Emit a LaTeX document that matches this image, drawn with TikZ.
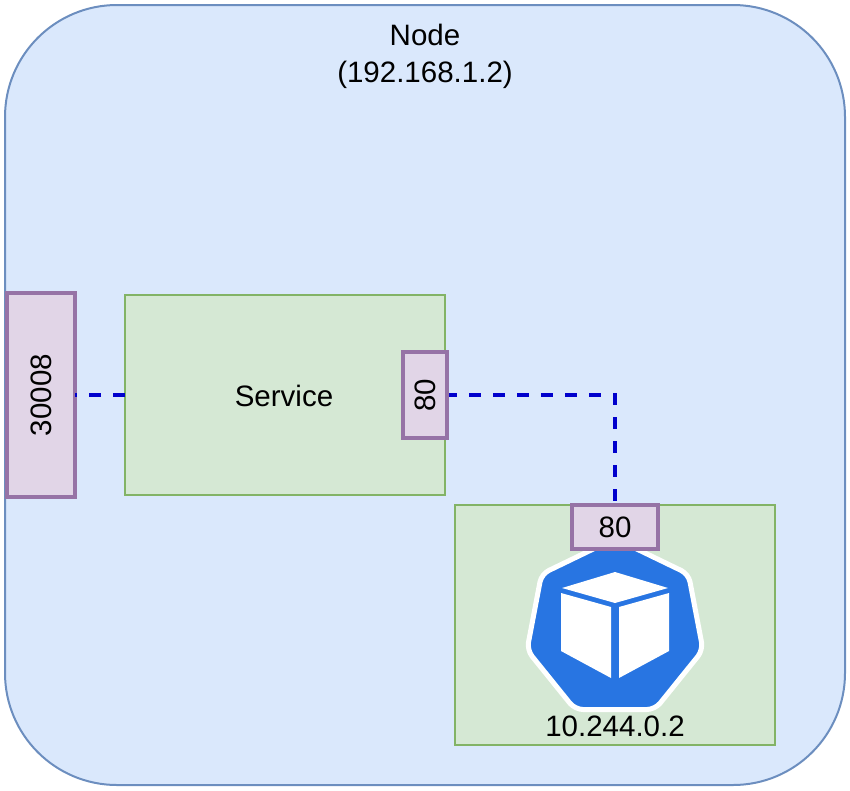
\documentclass[tikz,border=0pt]{standalone}
\usepackage{fontspec}
\setmainfont{Liberation Sans}
\definecolor{hostfill}{HTML}{DAE8FC}
\definecolor{hostline}{HTML}{6C8EBF}
\definecolor{boxfill}{HTML}{D5E8D4}
\definecolor{boxline}{HTML}{82B366}
\definecolor{portfill}{HTML}{E1D5E7}
\definecolor{portline}{HTML}{9673A6}
\definecolor{wire}{HTML}{0000CC}
\definecolor{kube}{HTML}{2875E2}
\newcommand{\lbl}{\fontsize{29.5}{37}\selectfont}
\tikzset{
  greenbox/.style={draw=boxline,fill=boxfill,line width=2pt,outer sep=0,inner sep=0},
  portbox/.style={draw=portline,fill=portfill,line width=4pt,inner sep=0},
  wireline/.style={wire,line width=4pt,dash pattern=on 12pt off 12pt},
}
\begin{document}
\begin{tikzpicture}[x=1pt,y=-1pt,font=\lbl]
\useasboundingbox (0,0) rectangle (850,790);
\draw[draw=hostline,fill=hostfill,line width=2pt,rounded corners=112pt] (5,5) rectangle (845,785);
\node[inner sep=0,align=center] (hostlabel) at (425,56) {Node\\(192.168.1.2)};
\node[greenbox,minimum width=320pt,minimum height=200pt] (service) at (285,395) {};
\node[inner sep=0] (servicelabel) at (284,396) {Service};
\node[greenbox,minimum width=320pt,minimum height=240pt] (pod) at (615,625) {};
% pod icon
\draw[white,fill=kube,line width=5pt,line join=round,rounded corners=8pt] (615,538.5) -- (688.5,574) -- (703,650) -- (655,709.5) -- (575,709.5) -- (527,650) -- (541.5,574) -- cycle;
\fill[white] (615,572) -- (668,588) -- (615,603) -- (562,588) -- cycle;
\fill[white] (561,593) -- (611,607) -- (611,678) -- (561,651) -- cycle;
\fill[white] (669,593) -- (619,607) -- (619,678) -- (669,651) -- cycle;
\node[inner sep=0] (podlabel) at (615,726) {10.244.0.2};
\node[portbox,outer sep=0,minimum width=68pt,minimum height=204pt] (nodeport) at (41,395) {\hspace{1pt}\rotatebox{90}{30008}};
\node[portbox,minimum width=44pt,minimum height=86pt] (serviceport) at (425,395) {\hspace{1pt}\rotatebox{90}{80}};
\node[portbox,minimum width=86pt,minimum height=44pt] (podport) at (615,527) {80};
\draw[wireline] (service.west) -- (nodeport.east);
\draw[wireline,dash phase=4pt] (serviceport.east) -| (podport.north);
\end{tikzpicture}
\end{document}
